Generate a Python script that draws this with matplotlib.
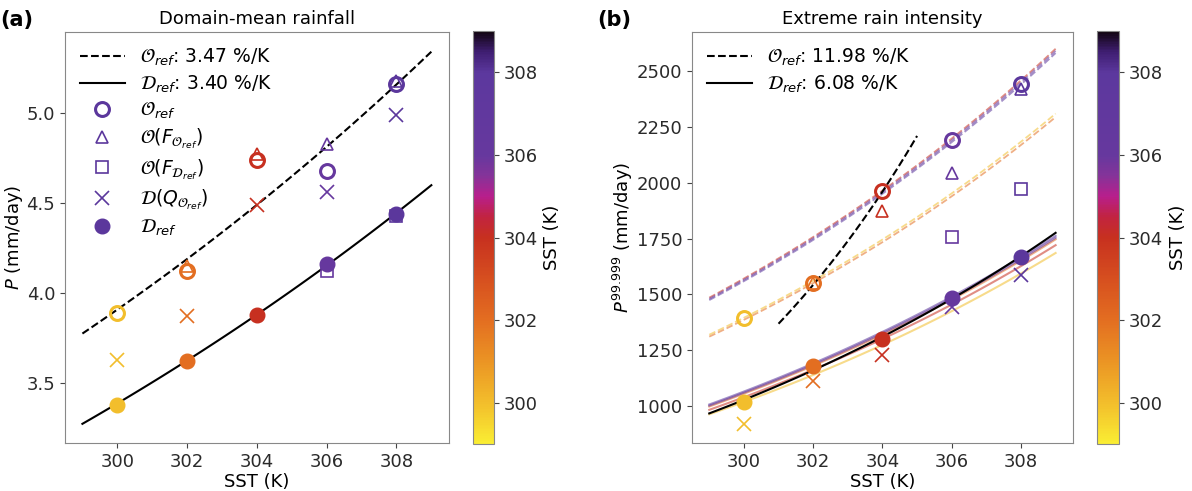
import numpy as np
import matplotlib
matplotlib.use("Agg")
import matplotlib.pyplot as plt
from matplotlib.colors import LinearSegmentedColormap, Normalize
from matplotlib.lines import Line2D
from matplotlib.cm import ScalarMappable

plt.rcParams['font.family'] = ['DejaVu Sans']
plt.rcParams['font.size'] = 13
plt.rcParams['mathtext.fontset'] = 'dejavusans'

nan = np.nan

# ---------------- data ----------------
sst = [300, 302, 304, 306, 308]

# (a) domain-mean rainfall (mm/day); nan = not visible in the figure
a_O_ref = [3.89, 4.12, 4.74, 4.68, 5.16]
a_O_FO = [nan, 4.15, 4.77, 4.83, 5.18]
a_O_FD = [nan, nan, nan, 4.12, 4.43]
a_D_QO = [3.63, 3.87, 4.49, 4.56, 4.99]
a_D_ref = [3.38, 3.62, 3.88, 4.16, 4.44]
a_fit_rate = [3.47, 3.40]      # %/K  (O_ref, D_ref)
a_fit_p304 = [4.49, 3.88]      # fit value at 304 K
a_fit_range = [(299, 309), (299, 309)]

# (b) extreme rain intensity (mm/day)
b_O_ref = [1395, 1550, 1965, 2190, 2440]
b_O_FO = [nan, 1550, 1875, 2045, 2420]
b_O_FD = [nan, nan, nan, 1755, 1970]
b_D_QO = [920, 1110, 1230, 1445, 1585]
b_D_ref = [1018, 1180, 1300, 1482, 1666]
b_fit_rate = [11.98, 6.08]
b_fit_p304 = [1960, 1310]
b_fit_range = [(301, 305), (299, 309)]
b_cc_rate = 5.6                # %/K scaling curves through each point
b_cc_range = (299, 309)

sst_lim = (299, 309)
cbar_ticks = [300, 302, 304, 306, 308]

# ---------------- colormap ----------------
cnodes = [(299.0, (0.98, 0.93, 0.20)),
          (300.0, (0.95, 0.74, 0.17)),
          (301.0, (0.92, 0.58, 0.14)),
          (302.0, (0.89, 0.43, 0.13)),
          (303.0, (0.84, 0.31, 0.12)),
          (304.0, (0.78, 0.19, 0.12)),
          (304.5, (0.76, 0.14, 0.25)),
          (305.0, (0.72, 0.12, 0.55)),
          (305.5, (0.52, 0.20, 0.60)),
          (306.0, (0.40, 0.22, 0.62)),
          (308.0, (0.36, 0.22, 0.62)),
          (308.5, (0.25, 0.12, 0.45)),
          (309.0, (0.07, 0.02, 0.07))]
cmap = LinearSegmentedColormap.from_list(
    'sstmap', [((v - sst_lim[0]) / (sst_lim[1] - sst_lim[0]), c) for v, c in cnodes])
norm = Normalize(*sst_lim)
legend_col = cmap(norm(308))

fig = plt.figure(figsize=(11.92, 4.91), dpi=100)
ax_a = fig.add_axes([0.0545, 0.0978, 0.322, 0.837])
cax_a = fig.add_axes([0.3968, 0.0957, 0.0176, 0.841])
ax_b = fig.add_axes([0.5805, 0.0978, 0.3196, 0.837])
cax_b = fig.add_axes([0.9203, 0.0957, 0.0185, 0.841])


def draw_points(ax, O_ref, O_FO, O_FD, D_QO, D_ref):
    for i, s in enumerate(sst):
        c = cmap(norm(s))
        ax.plot(s, O_FO[i], '^', ms=9, mfc='none', mec=c, mew=1.2, zorder=4)
        ax.plot(s, O_FD[i], 's', ms=9, mfc='none', mec=c, mew=1.2, zorder=4)
        ax.plot(s, D_QO[i], 'x', ms=10, mec=c, mew=1.2, zorder=4)
        ax.plot(s, O_ref[i], 'o', ms=10, mfc='none', mec=c, mew=2.2, zorder=5)
        ax.plot(s, D_ref[i], 'o', ms=10.5, mfc=c, mec=c, zorder=6)


def fit_curve(ax, rate, p304, rng, ls):
    x = np.linspace(rng[0], rng[1], 100)
    ax.plot(x, p304 * np.exp(rate / 100.0 * (x - 304)), color='k', ls=ls, lw=1.5, zorder=3)


# ---- panel (a)
fit_curve(ax_a, a_fit_rate[0], a_fit_p304[0], a_fit_range[0], '--')
fit_curve(ax_a, a_fit_rate[1], a_fit_p304[1], a_fit_range[1], '-')
draw_points(ax_a, a_O_ref, a_O_FO, a_O_FD, a_D_QO, a_D_ref)

# ---- panel (b)
xs = np.linspace(b_cc_range[0], b_cc_range[1], 100)
for i, s in enumerate(sst):
    c = cmap(norm(s))
    ax_b.plot(xs, b_O_ref[i] * np.exp(b_cc_rate / 100.0 * (xs - s)), color=c,
              ls='--', lw=1.3, alpha=0.55, zorder=2)
    ax_b.plot(xs, b_D_ref[i] * np.exp(b_cc_rate / 100.0 * (xs - s)), color=c,
              ls='-', lw=1.5, alpha=0.55, zorder=2)
fit_curve(ax_b, b_fit_rate[0], b_fit_p304[0], b_fit_range[0], '--')
fit_curve(ax_b, b_fit_rate[1], b_fit_p304[1], b_fit_range[1], '-')
draw_points(ax_b, b_O_ref, b_O_FO, b_O_FD, b_D_QO, b_D_ref)

# ---- axes formatting
for ax in (ax_a, ax_b):
    ax.set_xlim(298.5, 309.5)
    ax.set_xticks(sst)
    ax.set_xlabel('SST (K)', labelpad=2)
    for sp in ax.spines.values():
        sp.set_color('#888888')
    ax.tick_params(colors='#444444', labelcolor='#2a2a2a')

ax_a.set_ylim(3.167, 5.45)
ax_a.set_yticks([3.5, 4.0, 4.5, 5.0])
ax_a.set_ylabel('$P$ (mm/day)', labelpad=1)
ax_a.set_title('Domain-mean rainfall', fontsize=13)

ax_b.set_ylim(834, 2675)
ax_b.set_yticks([1000, 1250, 1500, 1750, 2000, 2250, 2500])
ax_b.set_ylabel('$P^{99.999}$ (mm/day)', labelpad=1)
ax_b.set_title('Extreme rain intensity', fontsize=13)

# legends
lab_O = r'$\mathcal{O}_{ref}$'
lab_D = r'$\mathcal{D}_{ref}$'
h_a = [Line2D([], [], color='k', ls='--', lw=1.5),
       Line2D([], [], color='k', ls='-', lw=1.5),
       Line2D([], [], ls='none', marker='o', ms=10, mfc='none', mec=legend_col, mew=2.2),
       Line2D([], [], ls='none', marker='^', ms=9, mfc='none', mec=legend_col, mew=1.2),
       Line2D([], [], ls='none', marker='s', ms=9, mfc='none', mec=legend_col, mew=1.2),
       Line2D([], [], ls='none', marker='x', ms=10, mec=legend_col, mew=1.2),
       Line2D([], [], ls='none', marker='o', ms=10.5, mfc=legend_col, mec=legend_col)]
l_a = [f'{lab_O}: {a_fit_rate[0]:.2f} %/K', f'{lab_D}: {a_fit_rate[1]:.2f} %/K',
       lab_O, r'$\mathcal{O}(F_{\mathcal{O}_{ref}})$', r'$\mathcal{O}(F_{\mathcal{D}_{ref}})$',
       r'$\mathcal{D}(Q_{\mathcal{O}_{ref}})$', lab_D]
ax_a.legend(h_a, l_a, loc='upper left', frameon=False, fontsize=13.5, handlelength=2.4,
            labelspacing=0.3, borderaxespad=0.4)

h_b = h_a[:2]
l_b = [f'{lab_O}: {b_fit_rate[0]:.2f} %/K', f'{lab_D}: {b_fit_rate[1]:.2f} %/K']
ax_b.legend(h_b, l_b, loc='upper left', frameon=False, fontsize=13.5, handlelength=2.4,
            labelspacing=0.3, borderaxespad=0.4)

# colorbars
for cax in (cax_a, cax_b):
    cb = fig.colorbar(ScalarMappable(norm=norm, cmap=cmap), cax=cax)
    cb.set_ticks(cbar_ticks)
    cb.set_label('SST (K)')
    cb.outline.set_edgecolor('#888888')
    cax.tick_params(colors='#444444', labelcolor='#2a2a2a')

fig.text(0.0, 1 - 20 / 491, '(a)', fontsize=15, fontweight='bold', ha='left', va='center')
fig.text(0.501, 1 - 20 / 491, '(b)', fontsize=15, fontweight='bold', ha='left', va='center')

fig.savefig('out.png', dpi=100)
